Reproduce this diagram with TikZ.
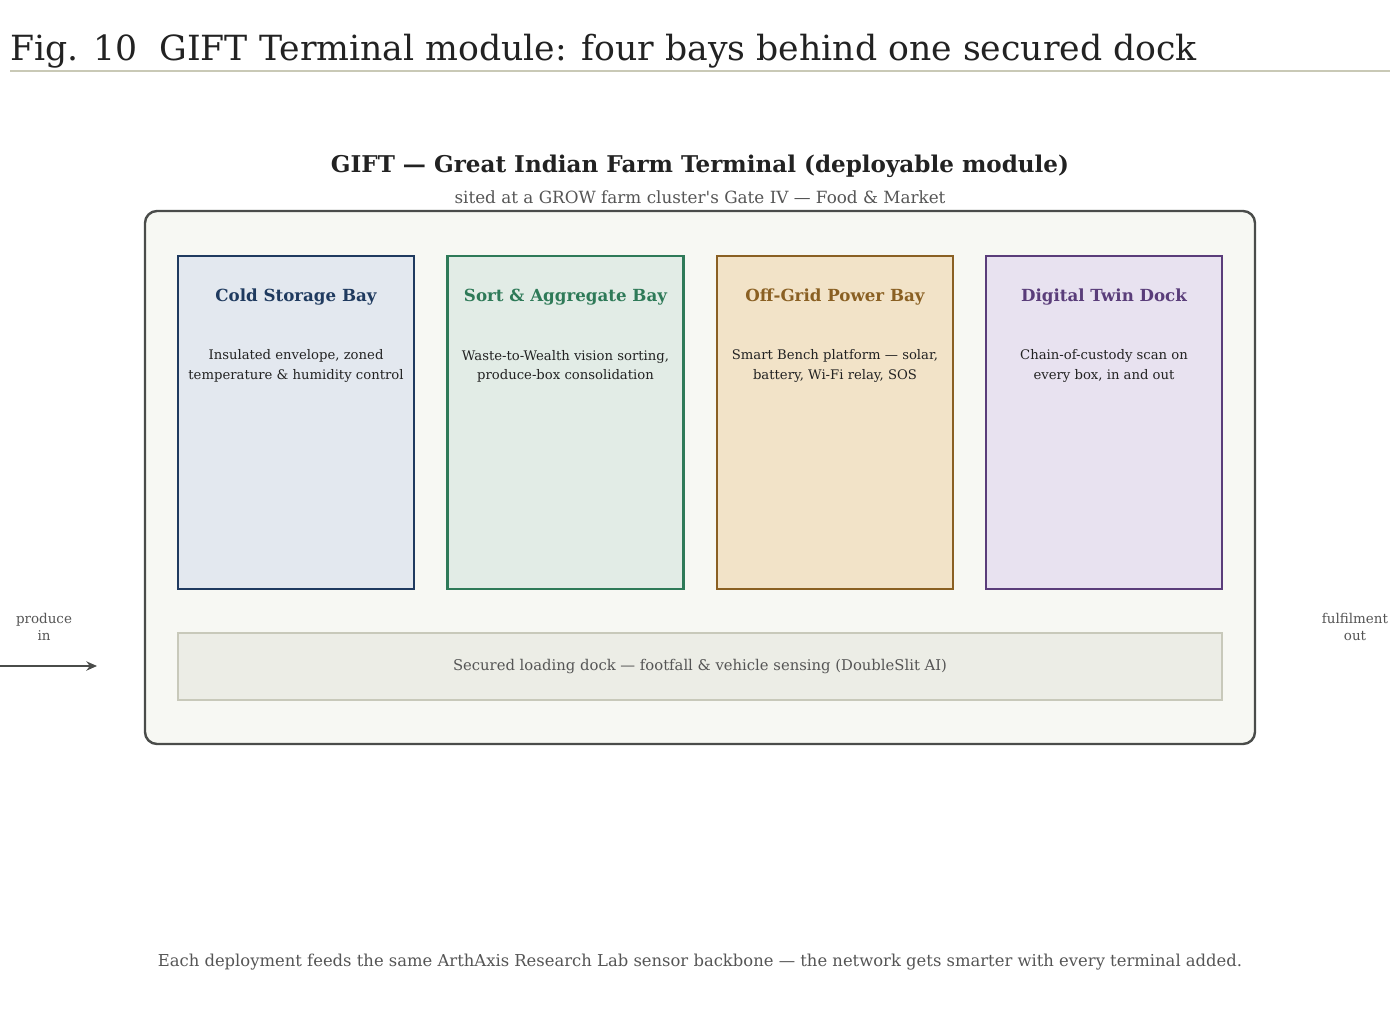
\documentclass[tikz,border=0pt]{standalone}
\usepackage{fontspec}
\setmainfont{DejaVu Serif}[Ligatures=TeXOff]
\usetikzlibrary{arrows.meta}
\definecolor{ink}{HTML}{222222}
\definecolor{grey}{HTML}{555555}
\definecolor{rulec}{HTML}{C9C9B6}
\definecolor{outerc}{HTML}{4A4C4A}
\definecolor{outerf}{HTML}{F7F8F3}
\definecolor{bluec}{HTML}{1F3A5F}\definecolor{bluef}{HTML}{E3E8EF}
\definecolor{greenc}{HTML}{2E7A58}\definecolor{greenf}{HTML}{E2ECE6}
\definecolor{brownc}{HTML}{8A6023}\definecolor{brownf}{HTML}{F2E3C8}
\definecolor{purplec}{HTML}{5A3D7A}\definecolor{purplef}{HTML}{E8E2F0}
\definecolor{dockf}{HTML}{ECEDE6}\definecolor{dockc}{HTML}{C8C9BA}
\tikzset{
  baybox/.style={draw=#1, line width=1.7pt, minimum width=177pt, minimum height=249.75pt, inner sep=0pt},
  baytitle/.style={font=\bfseries\fontsize{12.5}{15}\selectfont, text=#1, anchor=center},
  baybody/.style={font=\fontsize{9.9}{14.4}\selectfont, text=ink, align=center, anchor=center},
  sidelabel/.style={font=\fontsize{10.1}{12.5}\selectfont, text=grey, align=center},
}
\begin{document}
\begin{tikzpicture}[x=0.75pt,y=-0.75pt]
\useasboundingbox (0,0) rectangle (1400,1033);
\node[anchor=base west, inner sep=0pt, text=ink, font=\fontsize{26}{30}\selectfont] (title) at (10,60) {Fig. 10\ \ GIFT Terminal module: four bays behind one secured dock};
\draw[rulec, line width=1pt] (10,71) coordinate (r1) -- (1390,71) coordinate (r2);
\node[font=\bfseries\fontsize{17.3}{21}\selectfont, text=ink] (head) at (700,166.5) {GIFT — Great Indian Farm Terminal (deployable module)};
\node[font=\fontsize{12.6}{15}\selectfont, text=grey] (sub) at (700,197) {sited at a GROW farm cluster's Gate IV — Food \& Market};
\draw[outerc, fill=outerf, line width=1.8pt, rounded corners=9pt] (145,211) rectangle (1255,744);
\node[baybox=bluec, fill=bluef] (b1) at (296,422.5) {};
\node[baybox=greenc, fill=greenf] (b2) at (565.5,422.5) {};
\node[baybox=brownc, fill=brownf] (b3) at (835,422.5) {};
\node[baybox=purplec, fill=purplef] (b4) at (1104,422.5) {};
\node[baytitle=bluec] (t1) at (296,297.5) {Cold Storage Bay};
\node[baytitle=greenc] (t2) at (565.5,297.5) {Sort \& Aggregate Bay};
\node[baytitle=brownc] (t3) at (835,297.5) {Off-Grid Power Bay};
\node[baytitle=purplec] (t4) at (1104,297.5) {Digital Twin Dock};
\node[baybody] (d1) at (296,366) {Insulated envelope, zoned\\temperature \& humidity control};
\node[baybody] (d2) at (565.5,366) {Waste-to-Wealth vision sorting,\\produce-box consolidation};
\node[baybody] (d3) at (835,366) {Smart Bench platform — solar,\\battery, Wi-Fi relay, SOS};
\node[baybody] (d4) at (1104,366) {Chain-of-custody scan on\\every box, in and out};
\node[draw=dockc, fill=dockf, line width=1.2pt, minimum width=783pt, minimum height=50pt, inner sep=0pt, font=\fontsize{11.1}{13}\selectfont, text=grey] (dock) at (700,666.5) {Secured loading dock — footfall \& vehicle sensing (DoubleSlit AI)};
\node[sidelabel] (pin) at (44,627) {produce\\in};
\node[sidelabel] (fout) at (1355,627) {fulfilment\\out};
\coordinate (ain) at (0,666);
\coordinate (aend) at (97,666);
\draw[outerc, line width=1.6pt, -{Stealth[length=8pt,width=7pt]}] (ain) -- (aend);
\node[font=\fontsize{12.3}{15}\selectfont, text=grey] (foot) at (700,962) {Each deployment feeds the same ArthAxis Research Lab sensor backbone — the network gets smarter with every terminal added.};
\end{tikzpicture}
\end{document}
